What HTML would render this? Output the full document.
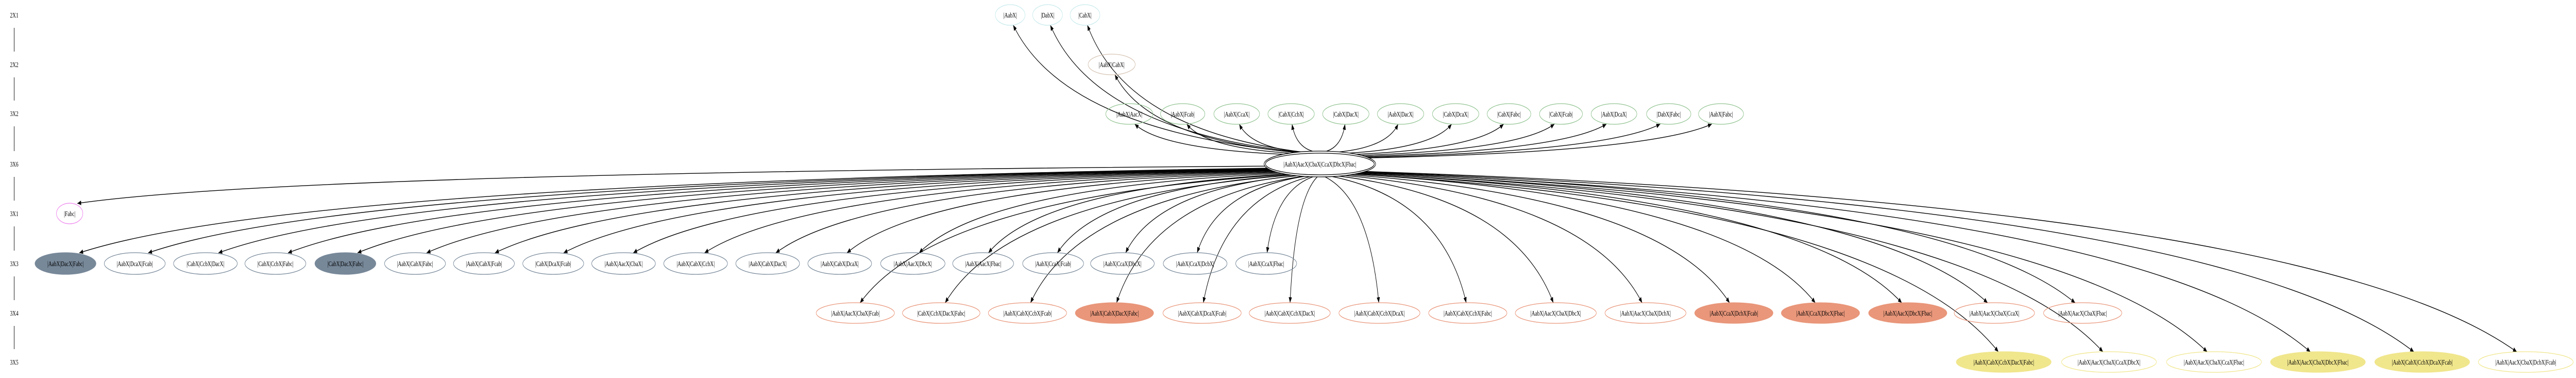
<!DOCTYPE html>
<html><head><meta charset="utf-8"><style>
html,body{margin:0;padding:0;background:#fff;width:100%;height:100%;overflow:hidden;}
svg{display:block;position:absolute;left:0;top:0;width:100vw;height:100vh;}
text{font-family:"Liberation Serif",serif;font-size:14px;text-anchor:middle;fill:#000;}
</style></head><body>
<svg id="g" xmlns="http://www.w3.org/2000/svg" viewBox="0 0 7436 733" preserveAspectRatio="none">
<defs><marker id="ah" markerUnits="userSpaceOnUse" markerWidth="12" markerHeight="10" refX="11" refY="4.5" orient="auto"><path d="M0,0 L11,4.5 L0,9 z" fill="#000"/></marker></defs>
<rect width="7436" height="733" fill="#fff"/>
<g id="edges" fill="none" stroke="#000" stroke-width="1.4"></g>
<g stroke="#000" stroke-width="1.3">
<line x1="41" y1="54" x2="41" y2="100"/><line x1="41" y1="150" x2="41" y2="195"/>
<line x1="41" y1="245" x2="41" y2="293"/><line x1="41" y1="343" x2="41" y2="389"/>
<line x1="41" y1="439" x2="41" y2="486"/><line x1="41" y1="536" x2="41" y2="582"/>
<line x1="41" y1="632" x2="41" y2="677"/>
</g>
<g>
<text x="41" y="34">2X1</text><text x="41" y="130">2X2</text><text x="41" y="225">3X2</text>
<text x="41" y="323">3X6</text><text x="41" y="419">3X1</text><text x="41" y="516">3X3</text>
<text x="41" y="612">3X4</text><text x="41" y="707">3X5</text>
</g>
<g id="nodes" stroke-width="1.3">
<g stroke="#c8eaec" fill="none">
<ellipse cx="2916" cy="29" rx="43" ry="20"/><ellipse cx="3024" cy="29" rx="43" ry="20"/><ellipse cx="3132" cy="29" rx="43" ry="20"/>
</g>
<text x="2916" y="34">|AabX|</text><text x="3024" y="34">|DabX|</text><text x="3132" y="34">|CabX|</text>
<ellipse cx="3209" cy="125" rx="68" ry="20" stroke="#d6c4b4" fill="none"/>
<text x="3209" y="130">|AabX|CabX|</text>
<g stroke="#93c493" fill="none">
<ellipse cx="3260" cy="221" rx="68" ry="20"/><ellipse cx="3414" cy="221" rx="64" ry="20"/>
<ellipse cx="3570" cy="221" rx="66" ry="20"/><ellipse cx="3727" cy="221" rx="67" ry="20"/>
<ellipse cx="3885" cy="221" rx="67" ry="20"/><ellipse cx="4043" cy="221" rx="67" ry="20"/>
<ellipse cx="4202" cy="221" rx="67" ry="20"/><ellipse cx="4356" cy="221" rx="63" ry="20"/>
<ellipse cx="4506" cy="221" rx="62" ry="20"/><ellipse cx="4659" cy="221" rx="66" ry="20"/>
<ellipse cx="4817" cy="221" rx="64" ry="20"/><ellipse cx="4968" cy="221" rx="65" ry="20"/>
</g>
<text x="3260" y="226">|AabX|AacX|</text><text x="3414" y="226">|AabX|Fcab|</text>
<text x="3570" y="226">|AabX|CcaX|</text><text x="3727" y="226">|CabX|CcbX|</text>
<text x="3885" y="226">|CabX|DacX|</text><text x="4043" y="226">|AabX|DacX|</text>
<text x="4202" y="226">|CabX|DcaX|</text><text x="4356" y="226">|CabX|Fabc|</text>
<text x="4506" y="226">|CabX|Fcab|</text><text x="4659" y="226">|AabX|DcaX|</text>
<text x="4817" y="226">|DabX|Fabc|</text><text x="4968" y="226">|AabX|Fabc|</text>
<ellipse cx="3810" cy="318" rx="161" ry="25" stroke="#000" fill="#fff"/>
<ellipse cx="3810" cy="318" rx="157" ry="21" stroke="#000" fill="none"/>
<text x="3810" y="323">|AabX|AacX|CbaX|CcaX|DbcX|Fbac|</text>
<ellipse cx="201" cy="414" rx="38" ry="20" stroke="#ee82ee" fill="none"/>
<text x="201" y="419">|Fabc|</text>
<g stroke="#778899" fill="none">
<ellipse cx="189" cy="511" rx="88" ry="21" fill="#778899"/><ellipse cx="389" cy="511" rx="88" ry="21"/>
<ellipse cx="593" cy="511" rx="92" ry="21"/><ellipse cx="795" cy="511" rx="88" ry="21"/>
<ellipse cx="997" cy="511" rx="88" ry="21" fill="#778899"/><ellipse cx="1198" cy="511" rx="88" ry="21"/>
<ellipse cx="1397" cy="511" rx="88" ry="21"/><ellipse cx="1597" cy="511" rx="88" ry="21"/>
<ellipse cx="1800" cy="511" rx="92" ry="21"/><ellipse cx="2008" cy="511" rx="92" ry="21"/>
<ellipse cx="2216" cy="511" rx="92" ry="21"/><ellipse cx="2424" cy="511" rx="92" ry="21"/>
<ellipse cx="2635" cy="511" rx="93" ry="21"/><ellipse cx="2838" cy="511" rx="88" ry="21"/>
<ellipse cx="3040" cy="511" rx="88" ry="21"/><ellipse cx="3240" cy="511" rx="92" ry="21"/>
<ellipse cx="3450" cy="511" rx="92" ry="21"/><ellipse cx="3655" cy="511" rx="88" ry="21"/>
</g>
<text x="189" y="516">|AabX|DacX|Fabc|</text><text x="389" y="516">|AabX|DcaX|Fcab|</text>
<text x="593" y="516">|CabX|CcbX|DacX|</text><text x="795" y="516">|CabX|CcbX|Fabc|</text>
<text x="997" y="516">|CabX|DacX|Fabc|</text><text x="1198" y="516">|AabX|CabX|Fabc|</text>
<text x="1397" y="516">|AabX|CabX|Fcab|</text><text x="1597" y="516">|CabX|DcaX|Fcab|</text>
<text x="1800" y="516">|AabX|AacX|CbaX|</text><text x="2008" y="516">|AabX|CabX|CcbX|</text>
<text x="2216" y="516">|AabX|CabX|DacX|</text><text x="2424" y="516">|AabX|CabX|DcaX|</text>
<text x="2635" y="516">|AabX|AacX|DbcX|</text><text x="2838" y="516">|AabX|AacX|Fbac|</text>
<text x="3040" y="516">|AabX|CcaX|Fcab|</text><text x="3240" y="516">|AabX|CcaX|DbcX|</text>
<text x="3450" y="516">|AabX|CcaX|DcbX|</text><text x="3655" y="516">|AabX|CcaX|Fbac|</text>
<g stroke="#e9967a" fill="none">
<ellipse cx="2469" cy="607" rx="113" ry="20"/><ellipse cx="2717" cy="607" rx="112" ry="20"/>
<ellipse cx="2966" cy="607" rx="113" ry="20"/><ellipse cx="3217" cy="607" rx="113" ry="20" fill="#e9967a"/>
<ellipse cx="3470" cy="607" rx="113" ry="20"/><ellipse cx="3723" cy="607" rx="117" ry="20"/>
<ellipse cx="3982" cy="607" rx="117" ry="20"/><ellipse cx="4237" cy="607" rx="113" ry="20"/>
<ellipse cx="4491" cy="607" rx="117" ry="20"/><ellipse cx="4750" cy="607" rx="117" ry="20"/>
<ellipse cx="5005" cy="607" rx="113" ry="20" fill="#e9967a"/><ellipse cx="5255" cy="607" rx="113" ry="20" fill="#e9967a"/>
<ellipse cx="5507" cy="607" rx="113" ry="20" fill="#e9967a"/><ellipse cx="5757" cy="607" rx="116" ry="20"/>
<ellipse cx="6012" cy="607" rx="113" ry="20"/>
</g>
<text x="2469" y="612">|AabX|AacX|CbaX|Fcab|</text><text x="2717" y="612">|CabX|CcbX|DacX|Fabc|</text>
<text x="2966" y="612">|AabX|CabX|CcbX|Fcab|</text><text x="3217" y="612">|AabX|CabX|DacX|Fabc|</text>
<text x="3470" y="612">|AabX|CabX|DcaX|Fcab|</text><text x="3723" y="612">|AabX|CabX|CcbX|DacX|</text>
<text x="3982" y="612">|AabX|CabX|CcbX|DcaX|</text><text x="4237" y="612">|AabX|CabX|CcbX|Fabc|</text>
<text x="4491" y="612">|AabX|AacX|CbaX|DbcX|</text><text x="4750" y="612">|AabX|AacX|CbaX|DcbX|</text>
<text x="5005" y="612">|AabX|CcaX|DcbX|Fcab|</text><text x="5255" y="612">|AabX|CcaX|DbcX|Fbac|</text>
<text x="5507" y="612">|AabX|AacX|DbcX|Fbac|</text><text x="5757" y="612">|AabX|AacX|CbaX|CcaX|</text>
<text x="6012" y="612">|AabX|AacX|CbaX|Fbac|</text>
<g stroke="#f0e68c" fill="none">
<ellipse cx="5784" cy="702" rx="137" ry="20" fill="#f0e68c"/><ellipse cx="6088" cy="702" rx="137" ry="20"/>
<ellipse cx="6391" cy="702" rx="137" ry="20"/><ellipse cx="6691" cy="702" rx="137" ry="20" fill="#f0e68c"/>
<ellipse cx="6992" cy="702" rx="137" ry="20" fill="#f0e68c"/><ellipse cx="7291" cy="702" rx="137" ry="20"/>
</g>
<text x="5784" y="707">|AabX|CabX|CcbX|DacX|Fabc|</text><text x="6088" y="707">|AabX|AacX|CbaX|CcaX|DbcX|</text>
<text x="6391" y="707">|AabX|AacX|CbaX|CcaX|Fbac|</text><text x="6691" y="707">|AabX|AacX|CbaX|DbcX|Fbac|</text>
<text x="6992" y="707">|AabX|CabX|CcbX|DcaX|Fcab|</text><text x="7291" y="707">|AabX|AacX|CbaX|DcbX|Fcab|</text>
</g>
</svg>
<script>
(function(){
var ns="http://www.w3.org/2000/svg",cx=3810,cy=318,rx=161,ry=25;
var T=[];
function add(xs,y,r,ryy){xs.forEach(function(x){T.push([x,y,r,ryy]);});}
add([2916,3024,3132],29,43,20);
add([3209],125,68,20);
add([3260,3414,3570,3727,3885,4043,4202,4356,4506,4659,4817,4968],221,66,20);
add([201],414,38,20);
add([189,389,593,795,997,1198,1397,1597,1800,2008,2216,2424,2635,2838,3040,3240,3450,3655],511,90,21);
add([2469,2717,2966,3217,3470,3723,3982,4237,4491,4750,5005,5255,5507,5757,6012],607,114,20);
add([5784,6088,6391,6691,6992,7291],702,137,20);
var g=document.getElementById("edges");
T.forEach(function(n){
 var tx=n[0],ty=n[1],trx=n[2],try_=n[3];
 var dx=tx-cx,dy=ty-cy;
 var t=1/Math.sqrt((dx/rx)*(dx/rx)+(dy/ry)*(dy/ry));
 var sx=cx+dx*t,sy=cy+dy*t;
 var vx=sx-tx,vy=(sy-ty)*4;
 var t2=1/Math.sqrt((vx/trx)*(vx/trx)+(vy/try_)*(vy/try_));
 var ex=tx+vx*t2*0.6,ey=ty+Math.sign(vy)*try_*0.98;
 var c1x=sx+(ex-sx)*0.55,c1y=sy+(ey-sy)*0.12;
 var c2x=ex+(sx-ex)*0.12,c2y=ey+(sy-ey)*0.55;
 var p=document.createElementNS(ns,"path");
 p.setAttribute("d","M"+sx.toFixed(1)+","+sy.toFixed(1)+" C"+c1x.toFixed(1)+","+c1y.toFixed(1)+" "+c2x.toFixed(1)+","+c2y.toFixed(1)+" "+ex.toFixed(1)+","+ey.toFixed(1));
 p.setAttribute("marker-end","url(#ah)");
 g.appendChild(p);
});
})();
</script>
</body></html>
